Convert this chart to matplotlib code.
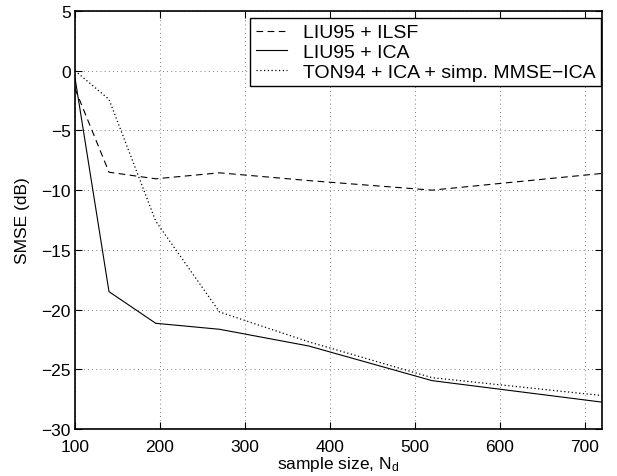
#!/usr/bin/env python3
# -*- coding: utf-8 -*-

import matplotlib
matplotlib.use('Agg')
import matplotlib.pyplot as plt

# sample sizes at the line corners, and SMSE in dB
n_ilsf = [100, 140, 195, 270, 375, 520, 720]
smse_ilsf = [-1.5, -8.5, -9.05, -8.55, -9.2, -10.0, -8.6]

n_ica = [100, 140, 195, 270, 375, 520, 720]
smse_ica = [-0.6, -18.5, -21.15, -21.65, -23.05, -25.95, -27.75]

n_ton = [100, 140, 195, 270, 375, 520, 720]
smse_ton = [0.0, -2.4, -12.6, -20.2, -22.7, -25.7, -27.2]

labels = ['LIU95 + ILSF', 'LIU95 + ICA', 'TON94 + ICA + simp. MMSE\u2212ICA']
xticks = [100, 200, 300, 400, 500, 600, 700]
yticks = [5, 0, -5, -10, -15, -20, -25, -30]

plt.rcParams['font.family'] = ['Liberation Sans', 'DejaVu Sans']
plt.rcParams['mathtext.fontset'] = 'custom'
plt.rcParams['mathtext.rm'] = 'Liberation Sans'
plt.rcParams['mathtext.it'] = 'Liberation Sans'
plt.rcParams['font.size'] = 12.5

fig = plt.figure(figsize=(6.17, 4.77), dpi=100)
ax = fig.add_axes([75 / 617, 1 - 430 / 477, 527 / 617, 418 / 477])

ax.plot(n_ilsf, smse_ilsf, color='black', lw=0.8, linestyle=(0, (6, 4)), label=labels[0])
ax.plot(n_ica, smse_ica, color='black', lw=0.8, linestyle='-', label=labels[1])
ax.plot(n_ton, smse_ton, color='black', lw=0.9, linestyle=(0, (1, 2)), label=labels[2])

ax.set_xlim(100, 720)
ax.set_ylim(-30, 5)
ax.set_xticks(xticks)
ax.set_yticks(yticks)
ax.set_xticklabels([str(v) for v in xticks])
ax.set_yticklabels([str(v).replace('-', '\u2212') for v in yticks])
ax.tick_params(direction='in', top=True, right=True, length=5, width=0.8)
ax.tick_params(axis='x', pad=7)
ax.tick_params(axis='y', pad=3)
ax.grid(True, color='#555555', linestyle=(0, (1, 4)), lw=0.6)
for sp in ax.spines.values():
    sp.set_linewidth(1.2)

ax.set_xlabel(r'sample size, N$_\mathrm{d}$', labelpad=0)
ax.set_ylabel('SMSE (dB)', labelpad=8)

leg = ax.legend(loc='upper right', bbox_to_anchor=(601 / 617, 1 - 19 / 477),
                bbox_transform=fig.transFigure, borderaxespad=0,
                fancybox=False, framealpha=1, edgecolor='black',
                fontsize=14, handlelength=1.6, handletextpad=0.8,
                labelspacing=0.1, borderpad=0.3)
leg.get_frame().set_linewidth(1.0)

plt.savefig('out.png', dpi=100)
